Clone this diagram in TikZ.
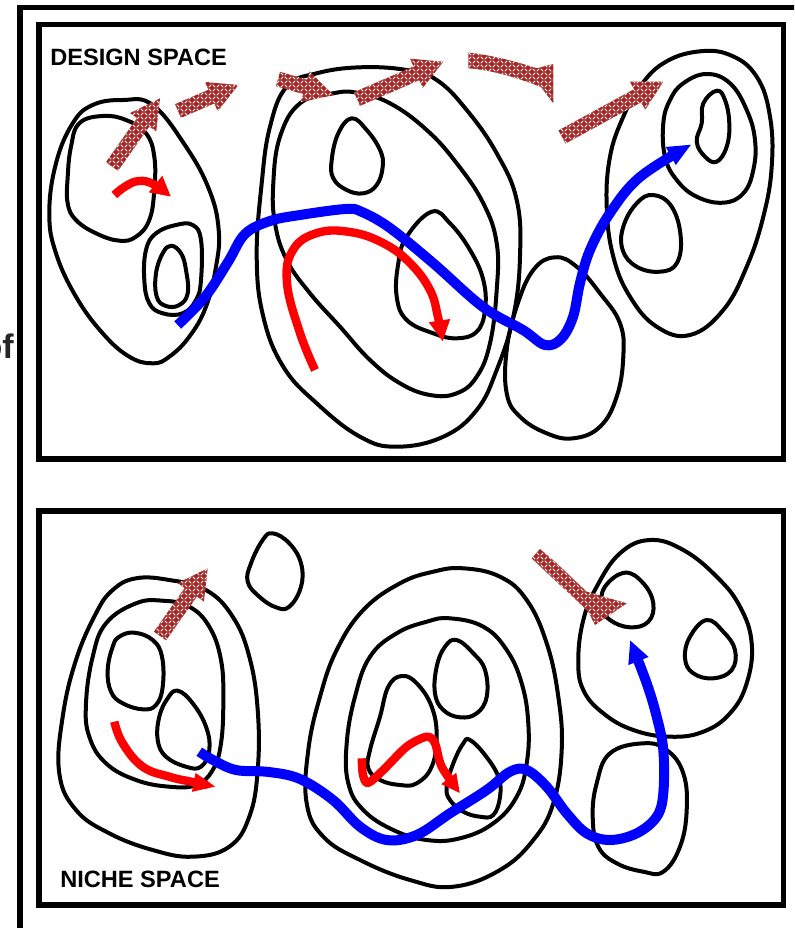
\documentclass[tikz,border=0pt]{standalone}
\usepackage{fontspec}
\setmainfont{Liberation Sans}
\usetikzlibrary{arrows.meta,calc,patterns}

% basket-weave fill used by the hatched block arrows
\pgfdeclarepatternformonly{weave}{\pgfqpoint{-0.5pt}{-0.5pt}}{\pgfqpoint{6.5pt}{6.5pt}}{\pgfqpoint{6pt}{6pt}}{%
  \pgfsetlinewidth{0.6pt}%
  \pgfsetroundcap%
  \pgfpathmoveto{\pgfqpoint{0.6pt}{0.6pt}}\pgfpathlineto{\pgfqpoint{2.4pt}{2.4pt}}%
  \pgfpathmoveto{\pgfqpoint{3.6pt}{3.6pt}}\pgfpathlineto{\pgfqpoint{5.4pt}{5.4pt}}%
  \pgfpathmoveto{\pgfqpoint{3.6pt}{2.4pt}}\pgfpathlineto{\pgfqpoint{5.4pt}{0.6pt}}%
  \pgfpathmoveto{\pgfqpoint{0.6pt}{5.4pt}}\pgfpathlineto{\pgfqpoint{2.4pt}{3.6pt}}%
  \pgfusepath{stroke}%
}

\definecolor{hatchred}{RGB}{165,38,38}

\tikzset{
  contour/.style={draw=black, line width=3pt, line join=round},
  panelframe/.style={draw=black, line width=4.2pt},
  bluepath/.style={draw=blue, line width=7.5pt, line join=round},
  redpath/.style={draw=red, line width=6.3pt, line join=round},
  hatch/.style={preaction={fill=hatchred}, pattern=weave, pattern color=white},
  spacelabel/.style={font=\bfseries\fontsize{17.7}{20}\selectfont, inner sep=0pt, anchor=base west}
}

% straight hatched block arrow from #1 (tail) to #2 (tip)
\newcommand\hatcharrow[2]{%
  \coordinate (hb) at ($(#2)!22pt!(#1)$);
  \path[hatch] ($(#1)!5.6pt!90:(#2)$) -- ($(hb)!5.6pt!-90:(#1)$)
    -- ($(hb)!12pt!-90:(#1)$) -- (#2) -- ($(hb)!12pt!90:(#1)$)
    -- ($(hb)!5.6pt!90:(#1)$) -- ($(#1)!5.6pt!-90:(#2)$) -- cycle;
}

\begin{document}
\begin{tikzpicture}[x=0.75pt,y=-0.75pt]
\useasboundingbox (0,0) rectangle (794,928);
\clip (0,0) rectangle (794,928);
\fill[white] (0,0) rectangle (794,928);

% frames
\draw[line width=3.8pt] (20,7.5) rectangle (812,931);
\draw[panelframe] (39,24.5) rectangle (783.5,459);
\draw[panelframe] (39,511) rectangle (783.5,905);

\node[font=\bfseries\fontsize{25.5}{30}\selectfont, inner sep=0pt, anchor=base east, text=black!85] (cut) at (14,358) {of};
\node[spacelabel] (design) at (50,65) {DESIGN SPACE};
\node[spacelabel] (niche) at (60,887) {NICHE SPACE};

% ---------- design space contours ----------
\draw[contour] plot[smooth cycle, tension=0.7] coordinates {
 (92.7,105) (122.7,100) (152.7,105) (186,146.7) (209.3,190) (218.7,230) (216,266.7)
 (206,306.7) (189.3,336.7) (169.3,356.7) (152.7,363.3) (129.3,356.7) (102.7,333.3)
 (76,296.7) (56,253.3) (49.3,213.3) (56,163.3) (72.7,123.3)};
\draw[contour] plot[smooth cycle, tension=0.7] coordinates {
 (79.3,123.3) (102.7,116) (126,120) (146,133.3) (154.3,156.7) (154.3,190) (149.3,220)
 (136,236.7) (119.3,240.7) (96,233.3) (76,220) (67.7,203.3) (67.7,176.7) (71,146.7)};
\draw[contour] plot[smooth cycle, tension=0.7] coordinates {
 (156,233.3) (176,225) (192.7,225) (201,240) (201,280) (196,300) (182.7,313.3)
 (162.7,313.3) (149.3,303.3) (144.3,280) (146,250)};
\draw[contour] plot[smooth cycle, tension=0.7] coordinates {
 (171,245.7) (181,253.3) (186,270) (187.7,293.3) (179.3,305) (166,306) (156.7,296.7)
 (156,273.3) (162.7,253.3)};

\draw[contour] plot[smooth cycle, tension=0.7] coordinates {
 (316.7,73.3) (360,67.3) (406.7,70) (436.7,80) (466.7,110) (496.7,153.3) (516.7,200)
 (520,256.7) (513.3,316.7) (496.7,370) (476.7,410) (443.3,436.7) (396.7,446.7)
 (360,436.7) (316.7,403.3) (283.3,366.7) (263.3,316.7) (256.7,256.7) (261.7,183.3)
 (270,126.7) (286.7,86.7)};
\draw[contour] plot[smooth cycle, tension=0.7] coordinates {
 (333.3,93.3) (356.7,92.7) (390,103.3) (426.7,130) (456.7,163.3) (483.3,203.3)
 (496.7,243.3) (496.7,290) (490,343.3) (476.7,376.7) (456.7,393.3) (430,395)
 (400,383.3) (370,360) (340,326.7) (310,293.3) (286.7,260) (275,223.3) (273.3,183.3)
 (280,136.7) (300,103.3)};
\draw[contour] plot[smooth cycle, tension=0.7] coordinates {
 (351.7,118.3) (366.7,130) (380,150) (382.7,166.7) (376.7,185) (363.3,193.3)
 (346.7,190) (333.3,178.3) (331.7,160) (338.3,133.3)};
\draw[contour] plot[smooth cycle, tension=0.7] coordinates {
 (431.7,211.7) (450,223.3) (470,250) (483.3,280) (485,310) (476.7,331.7) (456.7,338.3)
 (433.3,333.3) (406.7,320) (396.7,296.7) (398.3,263.3) (406.7,236.7)};

\draw[contour] plot[smooth cycle, tension=0.7] coordinates {
 (555,257.3) (576.7,266.7) (600,293.3) (620,323.3) (623.3,356.7) (616.7,396.7)
 (600,426.7) (573.3,438.3) (546.7,433.3) (520,416.7) (506.7,393.3) (506.7,350)
 (516.7,306.7) (533.3,270)};

\draw[contour] plot[smooth cycle, tension=0.7] coordinates {
 (663.3,63.3) (696.7,51.7) (730,55) (756.7,76.7) (770,116.7) (771.7,166.7) (763.3,216.7)
 (746.7,266.7) (723.3,310) (690,335) (656.7,326.7) (630,296.7) (613.3,256.7)
 (606.7,206.7) (610,156.7) (623.3,116.7) (640,86.7)};
\draw[contour] plot[smooth cycle, tension=0.7] coordinates {
 (683.3,83.3) (706.7,74) (730,83.3) (746.7,110) (755,140) (753.3,170) (743.3,193.3)
 (723.3,202.7) (696.7,196.7) (676.7,180) (665,156.7) (663.3,123.3) (670,100)};
\draw[contour] plot[smooth cycle, tension=0.7] coordinates {
 (716.7,90.7) (725,100) (729.3,123.3) (726.7,146.7) (716.7,161.7) (705,156.7)
 (696.7,141.7) (701.7,123.3) (703.3,103.3)};
\draw[contour] plot[smooth cycle, tension=0.7] coordinates {
 (653.3,195) (671.7,206.7) (680.7,236.7) (676.7,263.3) (660,271.7) (636.7,266.7)
 (622.7,250) (623.3,226.7) (636.7,203.3)};

% ---------- niche space contours ----------
\draw[contour] plot[smooth cycle, tension=0.7] coordinates {
 (136,578.3) (169.3,580) (206,590) (232.7,616.7) (249.3,656.7) (257.7,710) (257.7,770)
 (249.3,816.7) (229.3,846.7) (192.7,856.7) (152.7,850) (109.3,833.3) (76,810)
 (59.3,773.3) (62.7,716.7) (76,660) (96,613.3) (112.7,590)};
\draw[contour] plot[smooth cycle, tension=0.7] coordinates {
 (136,603.3) (162.7,600.7) (189.3,606.7) (209.3,626.7) (221,660) (223.3,700) (221,743.3)
 (212.7,770) (196,785) (169.3,786.7) (136,780) (106,763.3) (89.3,736.7) (86,703.3)
 (92.7,656.7) (106,623.3)};
\draw[contour] plot[smooth cycle, tension=0.7] coordinates {
 (119.3,636.7) (134.3,632.7) (152.7,640) (162,656.7) (162.7,686.7) (156,705)
 (142.7,709.3) (122.7,703.3) (111,691.7) (107.7,670) (112.7,646.7)};
\draw[contour] plot[smooth cycle, tension=0.7] coordinates {
 (177.7,690.7) (192.7,703.3) (206,726.7) (209.3,750) (201,766.7) (186,766.7) (166,756.7)
 (157.7,740) (159.3,716.7) (167.7,698.3)};
\draw[contour] plot[smooth cycle, tension=0.7] coordinates {
 (272.7,533.3) (289.3,543.3) (301,563.3) (301,586.7) (289.3,606.7) (276,607.3)
 (259.3,596.7) (247.7,581.7) (251,563.3) (262.7,540)};

\draw[contour] plot[smooth cycle, tension=0.7] coordinates {
 (463.3,568.3) (500,576.7) (526.7,600) (546.7,643.3) (558.3,696.7) (561.7,750)
 (553.3,803.3) (533.3,840) (500,870) (453.3,886.7) (410,880) (360,860) (323.3,836.7)
 (306.7,803.3) (308.3,750) (320,696.7) (336.7,650) (363.3,610) (400,583.3) (433.3,571.7)};
\draw[contour] plot[smooth cycle, tension=0.7] coordinates {
 (450,618.3) (483.3,626.7) (506.7,650) (521.7,683.3) (528.3,723.3) (526.7,763.3)
 (516.7,796.7) (493.3,823.3) (460,838.3) (426.7,840) (393.3,830) (363.3,810)
 (348.3,783.3) (346.7,743.3) (355,696.7) (370,656.7) (396.7,633.3) (426.7,621.7)};
\draw[contour] plot[smooth cycle, tension=0.7] coordinates {
 (401.7,676) (416.7,683.3) (431.7,706.7) (436.7,736.7) (431.7,766.7) (416.7,783.3)
 (400,785) (380,780) (368.3,768.3) (370,750) (380,716.7) (388.3,686.7)};
\draw[contour] plot[smooth cycle, tension=0.7] coordinates {
 (456.7,640) (473.3,653.3) (485,670) (486.7,696.7) (476.7,713.3) (460,717.3)
 (443.3,710) (435,693.3) (436.7,666.7) (445,646.7)};
\draw[contour] plot[smooth cycle, tension=0.7] coordinates {
 (470,740) (485,755) (498.3,776.7) (500,796.7) (493.3,815) (480,816.7) (463.3,811.7)
 (450,800) (446.7,786.7) (453.3,763.3) (463.3,743.3)};

\draw[contour] plot[smooth cycle, tension=0.7] coordinates {
 (650,540) (683.3,550) (716.7,576.7) (740,606.7) (751.7,643.3) (746.7,683.3)
 (730,713.3) (703.3,731.7) (670,736.7) (633.3,730) (603.3,713.3) (583.3,690)
 (578.3,660) (583.3,620) (596.7,586.7) (620,553.3)};
\draw[contour] plot[smooth cycle, tension=0.7] coordinates {
 (625,572.7) (643.3,583.3) (653.3,603.3) (648.3,621.7) (630,627.3) (610,620)
 (601.7,606.7) (605,586.7)};
\draw[contour] plot[smooth cycle, tension=0.7] coordinates {
 (706.7,620) (723.3,631.7) (735,650) (731.7,670) (713.3,678.3) (693.3,673.3)
 (685,658.3) (690,636.7)};
\draw[contour] plot[smooth cycle, tension=0.7] coordinates {
 (643.3,743.3) (666.7,750) (683.3,773.3) (686.7,810) (680,846.7) (663.3,871.7)
 (643.3,871.7) (616.7,863.3) (598.3,846.7) (592.7,816.7) (596.7,783.3) (610,753.3)};

% ---------- hatched block arrows ----------
\hatcharrow{112,166.5}{160,98.3}
\hatcharrow{178,111}{238.3,85}
\hatcharrow{278,79}{333.3,95}
\hatcharrow{357,99}{443.3,61.7}
\hatcharrow{562,137}{663.3,81.7}
\hatcharrow{160,636}{207.7,568.3}
\path[hatch] (468.3,52.5) .. controls (490,55) and (515,61) .. (536.7,68.3)
  -- (553.3,64) -- (553.3,103.3) -- (541,87)
  .. controls (518,78) and (492,70) .. (468.3,68.3) -- cycle;
\path[hatch] (540,549) .. controls (555,561) and (570,576) .. (586.7,591.7)
  -- (626.7,603.3) -- (595,625) -- (588.3,611.7)
  .. controls (570,594) and (550,576) .. (531.7,558.3) -- cycle;

% ---------- red and blue paths ----------
\draw[redpath, -{Triangle[length=15pt,width=15pt]}] plot[smooth, tension=0.7] coordinates {
 (114.3,195) (126,186) (139,181) (153,184) (171,196.7)};
\draw[redpath, -{Triangle[length=16pt,width=15pt]}] plot[smooth, tension=0.7] coordinates {
 (315,370) (300,333) (287,283) (293,250) (317,233) (350,232) (383,243) (410,263)
 (430,290) (438,317) (442.7,341.7)};
\draw[bluepath, -{Triangle[length=18pt,width=14pt]}] plot[smooth, tension=0.6] coordinates {
 (177.7,325) (205,297) (228,262) (245,234) (270,221) (300,215) (346,209) (362,212)
 (390,228) (433,263) (483,307) (523,330) (545,345) (561,339) (573,317) (580,283)
 (590,250) (610,213) (640,177) (691.7,144.3)};

\draw[redpath, -{Triangle[length=17pt,width=13pt]}] plot[smooth, tension=0.7] coordinates {
 (114.3,721.7) (122.7,743.3) (142.7,766.7) (169.3,776.7) (192.7,782) (216,786.7)};
\draw[redpath, -{Triangle[length=14pt,width=13pt]}] plot[smooth, tension=0.5] coordinates {
 (361.7,758.3) (363,775) (368,783) (383.3,770) (406.7,746.7) (426.7,736.7) (435,743.3)
 (441.7,766.7) (460,793.3)};
\draw[bluepath, -{Triangle[length=17pt,width=15pt]}] plot[smooth, tension=0.6] coordinates {
 (199.3,751.7) (213,760) (236,770) (269,772) (300,779) (333,800) (360,826.7)
 (386.7,840) (416.7,835) (450,813.3) (486.7,790) (510,771.7) (526.7,770) (546.7,786.7)
 (566.7,813.3) (586.7,833.3) (610,840) (636.7,833.3) (656.7,816.7) (663.3,793.3)
 (663.3,750) (656.7,716.7) (646.7,683.3) (630,640)};
\end{tikzpicture}
\end{document}
